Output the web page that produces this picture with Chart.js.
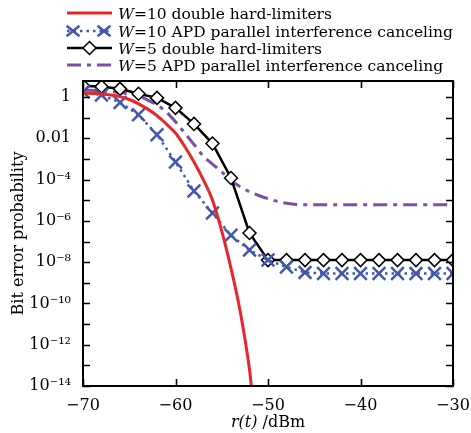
<!DOCTYPE html>
<html><head><meta charset="utf-8">
<script src="https://cdn.jsdelivr.net/npm/chart.js@4/dist/chart.umd.min.js"></script>
<style>html,body{margin:0;padding:0;background:#fff;}#wrap{width:471px;height:433px;}</style>
</head><body><div id="wrap"><canvas id="c" width="471" height="433"></canvas></div>
<script>
// ---- data ----
const seriesNames = [
  'W=10 double hard-limiters',
  'W=10 APD parallel interference canceling',
  'W=5 double hard-limiters',
  'W=5 APD parallel interference canceling'
];
const xTickValues = [-70, -60, -50, -40, -30];
const yDecades = [0,-1,-2,-3,-4,-5,-6,-7,-8,-9,-10,-11,-12,-13,-14];

const redX = [-70,-69,-68,-67,-66,-65,-64,-63,-62,-61,-60,-59,-58,-57,-56,-55,-54,-53,-52,-51.7];
const redY = [1.6,1.5,1.4,1.26,1.05,0.76,0.47,0.26,0.126,0.05,0.018,4.0e-3,7.1e-4,1.0e-4,1.0e-5,3.2e-7,5.0e-9,4.0e-11,6.3e-14,4e-15];

const blueX = [-70,-68,-66,-64,-62,-60,-58,-56,-54,-52,-50,-48,-46,-44,-42,-40,-38,-36,-34,-32,-30];
const blueY = [1.8,1.26,0.54,0.14,0.015,7.2e-4,2.8e-5,2.4e-6,2.0e-7,3.9e-8,1.26e-8,5.8e-9,3.2e-9,2.8e-9,2.8e-9,2.8e-9,2.8e-9,2.8e-9,2.8e-9,2.8e-9,2.8e-9];

const blackX = [-70,-68,-66,-64,-62,-60,-58,-56,-54,-52,-50,-48,-46,-44,-42,-40,-38,-36,-34,-32,-30];
const blackY = [3.5,3.2,2.5,1.45,0.91,0.3,0.05,5.6e-3,1.2e-4,2.6e-7,1.26e-8,1.26e-8,1.26e-8,1.26e-8,1.26e-8,1.26e-8,1.26e-8,1.26e-8,1.26e-8,1.26e-8,1.26e-8];

const purpleX = [-70,-68,-66,-64,-63,-62,-61,-60,-59,-58,-57,-56,-55,-54,-53,-52,-51,-50,-49,-48,-46,-42,-38,-34,-30];
const purpleY = [2.2,2.0,1.66,1.12,0.71,0.42,0.19,0.063,0.018,5.0e-3,1.4e-3,5.6e-4,2.4e-4,8.9e-5,4.5e-5,2.6e-5,1.7e-5,1.2e-5,8.9e-6,7.1e-6,6.0e-6,6.0e-6,6.0e-6,6.0e-6,6.0e-6];

// ---- helpers ----
const FONT = "'DejaVu Serif', serif";
const SUP = {'0':'⁰','1':'¹','2':'²','3':'³','4':'⁴','5':'⁵','6':'⁶','7':'⁷','8':'⁸','9':'⁹','-':'⁻'};
function pts(xs, ys){ return xs.map((x,i)=>({x:x, y:ys[i]})); }
function yLabel(v){
  const e = Math.round(Math.log10(v));
  if (e % 2 !== 0) return '';
  if (e === 0) return '1';
  if (e === -2) return '0.01';
  return '10' + String(e).split('').map(c=>SUP[c]).join('');
}
const RED = '#e8262a', BLUE = '#4256ac', BLACK = '#000000', PURPLE = '#7a4fa6';

const framePlugin = {
  id: 'frame',
  afterDatasetsDraw(chart){
    const {ctx, chartArea: a, scales} = chart;
    ctx.save();
    ctx.strokeStyle = '#000';
    ctx.lineWidth = 1.6;
    ctx.beginPath();
    scales.y.ticks.forEach(t=>{
      const py = Math.round(scales.y.getPixelForValue(t.value)) + 0.5;
      ctx.moveTo(a.left, py); ctx.lineTo(a.left + 7, py);
      ctx.moveTo(a.right, py); ctx.lineTo(a.right - 7, py);
    });
    scales.x.ticks.forEach(t=>{
      const px = Math.round(scales.x.getPixelForValue(t.value)) + 0.5;
      ctx.moveTo(px, a.bottom); ctx.lineTo(px, a.bottom - 7);
      ctx.moveTo(px, a.top); ctx.lineTo(px, a.top + 7);
    });
    ctx.stroke();
    ctx.lineWidth = 2;
    ctx.strokeRect(a.left, a.top, a.right - a.left, a.bottom - a.top);
    ctx.restore();
  },
  afterDraw(chart){
    const ctx = chart.ctx;
    const a = chart.chartArea;
    ctx.save();
    ctx.fillStyle = '#000';
    ctx.textBaseline = 'alphabetic';
    const it = 'r(t)', rest = ' /dBm';
    ctx.font = "italic 16px " + FONT;
    const w1 = ctx.measureText(it).width;
    ctx.font = "16px " + FONT;
    const w2 = ctx.measureText(rest).width;
    const cx = (a.left + a.right) / 2;
    let sx = cx - (w1 + w2) / 2;
    ctx.font = "italic 16px " + FONT;
    ctx.fillText(it, sx, 427);
    ctx.font = "16px " + FONT;
    ctx.fillText(rest, sx + w1, 427);

    const x0 = 67, x1 = 112, tx = 118;
    const ys = [13, 31, 48, 65];
    chart.data.datasets.forEach((ds, i) => {
      const y = ys[i];
      ctx.save();
      ctx.strokeStyle = ds.borderColor;
      ctx.lineWidth = ds.borderWidth;
      ctx.setLineDash(ds.borderDash || []);
      ctx.beginPath();
      ctx.moveTo(x0, y); ctx.lineTo(x1, y);
      ctx.stroke();
      ctx.setLineDash([]);
      if (ds.pointStyle === 'crossRot') {
        ctx.lineWidth = ds.pointBorderWidth;
        ctx.strokeStyle = ds.pointBorderColor;
        [73, 104].forEach(mx => {
          const d = 6.5;
          ctx.beginPath();
          ctx.moveTo(mx - d, y - d*0.8); ctx.lineTo(mx + d, y + d*0.8);
          ctx.moveTo(mx - d, y + d*0.8); ctx.lineTo(mx + d, y - d*0.8);
          ctx.stroke();
        });
      } else if (ds.pointStyle === 'rectRot') {
        const mx = 89.5, r = 6.5;
        ctx.lineWidth = ds.pointBorderWidth;
        ctx.strokeStyle = ds.pointBorderColor;
        ctx.fillStyle = '#fff';
        ctx.beginPath();
        ctx.moveTo(mx - r, y); ctx.lineTo(mx, y - r); ctx.lineTo(mx + r, y); ctx.lineTo(mx, y + r); ctx.closePath();
        ctx.fill(); ctx.stroke();
      }
      ctx.restore();
      const label = ds.label;
      ctx.fillStyle = '#000';
      ctx.font = "italic 15.5px " + FONT;
      ctx.fillText(label[0], tx, y + 6);
      const wW = ctx.measureText(label[0]).width;
      ctx.font = "15.5px " + FONT;
      ctx.fillText(label.slice(1), tx + wW, y + 6);
    });
    ctx.restore();
  }
};

new Chart(document.getElementById('c'), {
  type: 'line',
  data: {
    datasets: [
      { label: seriesNames[0], data: pts(redX, redY), borderColor: RED, backgroundColor: RED,
        borderWidth: 3, pointRadius: 0, cubicInterpolationMode: 'monotone', fill: false },
      { label: seriesNames[1], data: pts(blueX, blueY), borderColor: BLUE, backgroundColor: BLUE,
        borderWidth: 2.5, borderDash: [2.5, 4], pointStyle: 'crossRot', pointRadius: 9,
        pointBorderColor: BLUE, pointBorderWidth: 2.5, tension: 0, fill: false },
      { label: seriesNames[2], data: pts(blackX, blackY), borderColor: BLACK, backgroundColor: '#fff',
        borderWidth: 2.5, pointStyle: 'rectRot', pointRadius: 6.5, pointBackgroundColor: '#fff',
        pointBorderColor: BLACK, pointBorderWidth: 1.5, tension: 0, fill: false },
      { label: seriesNames[3], data: pts(purpleX, purpleY), borderColor: PURPLE, backgroundColor: PURPLE,
        borderWidth: 3, borderDash: [14, 6, 4, 6], pointRadius: 0, cubicInterpolationMode: 'monotone', fill: false }
    ]
  },
  options: {
    responsive: false,
    animation: false,
    layout: { padding: { top: 81, right: 18, left: 0, bottom: 0 } },
    plugins: { legend: { display: false }, tooltip: { enabled: false } },
    scales: {
      x: {
        type: 'linear', min: -70, max: -30,
        afterBuildTicks: s => { s.ticks = xTickValues.map(v => ({ value: v })); },
        afterFit: s => { s.height = 47; s.paddingLeft = 0; s.paddingRight = 0; },
        grid: { display: false, drawTicks: false },
        border: { display: false },
        ticks: { padding: 10, color: '#000', font: { family: FONT, size: 16 },
          callback: v => (v < 0 ? '\u2212' : '') + Math.abs(v) }
      },
      y: {
        type: 'logarithmic', min: 1e-14, max: 6,
        afterBuildTicks: s => { s.ticks = yDecades.map(e => ({ value: Math.pow(10, e) })); },
        afterFit: s => { s.width = 83; s.paddingTop = 0; s.paddingBottom = 0; },
        grid: { display: false, drawTicks: false },
        border: { display: false },
        ticks: { padding: 12, color: '#000', font: { family: FONT, size: 16 }, autoSkip: false,
          callback: v => yLabel(v) },
        title: { display: true, text: 'Bit error probability', color: '#000',
          font: { family: FONT, size: 16 }, padding: { top: 9, bottom: 0 } }
      }
    }
  },
  plugins: [framePlugin]
});
</script></body></html>
